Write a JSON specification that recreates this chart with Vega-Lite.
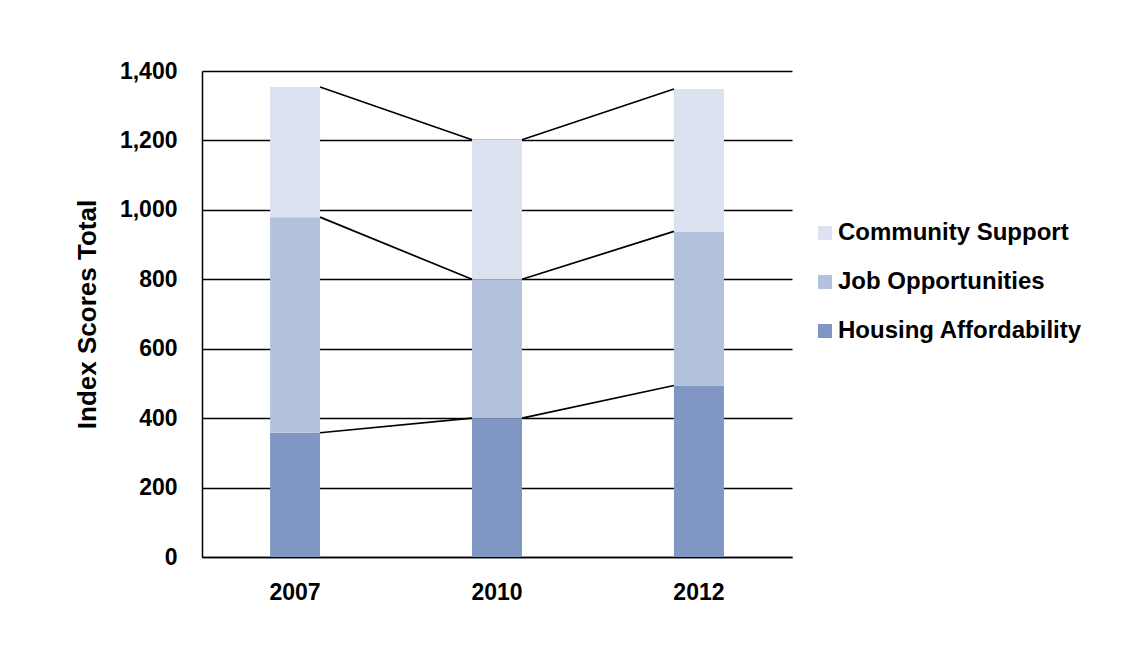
{
  "$schema": "https://vega.github.io/schema/vega-lite/v6.json",
  "width": 590,
  "height": 486,
  "autosize": {"type": "none"},
  "padding": {"left": 202, "top": 71, "right": 333, "bottom": 101},
  "background": "white",
  "config": {
    "font": "Liberation Sans",
    "view": {"stroke": null}
  },
  "data": {
    "values": [
      {"year": "2007", "series": "Housing Affordability", "value": 358},
      {"year": "2007", "series": "Job Opportunities", "value": 621},
      {"year": "2007", "series": "Community Support", "value": 375},
      {"year": "2010", "series": "Housing Affordability", "value": 400},
      {"year": "2010", "series": "Job Opportunities", "value": 400},
      {"year": "2010", "series": "Community Support", "value": 402},
      {"year": "2012", "series": "Housing Affordability", "value": 494},
      {"year": "2012", "series": "Job Opportunities", "value": 444},
      {"year": "2012", "series": "Community Support", "value": 410}
    ]
  },
  "transform": [
    {"calculate": "indexof(['Housing Affordability','Job Opportunities','Community Support'], datum.series)", "as": "rank"}
  ],
  "layer": [
    {
      "mark": {"type": "bar", "strokeWidth": 0},
      "encoding": {
        "x": {
          "field": "year",
          "type": "ordinal",
          "scale": {"paddingInner": 0.7525, "paddingOuter": 0.337},
          "axis": {
            "title": null,
            "labelAngle": 0,
            "labelFontSize": 23,
            "labelFontWeight": "bold",
            "labelColor": "black",
            "labelPadding": 24,
            "ticks": false,
            "domain": true,
            "domainColor": "black",
            "domainWidth": 1.5
          }
        },
        "y": {
          "field": "value",
          "type": "quantitative",
          "stack": "zero",
          "scale": {"domain": [0, 1400], "nice": false},
          "axis": {
            "title": "Index Scores Total",
            "titleFontSize": 26,
            "titleFontWeight": "bold",
            "titleColor": "black",
            "titlePadding": 19,
            "values": [0, 200, 400, 600, 800, 1000, 1200, 1400],
            "format": ",.0f",
            "labelFontSize": 23,
            "labelFontWeight": "bold",
            "labelColor": "black",
            "labelPadding": 25,
            "ticks": false,
            "domain": true,
            "domainColor": "black",
            "domainWidth": 1.5,
            "grid": true,
            "gridColor": "black",
            "gridWidth": 1.6,
            "gridOpacity": 1
          }
        },
        "color": {
          "field": "series",
          "type": "nominal",
          "sort": ["Community Support", "Job Opportunities", "Housing Affordability"],
          "scale": {
            "domain": ["Community Support", "Job Opportunities", "Housing Affordability"],
            "range": ["#dce2ef", "#b3c1dc", "#7f97c2"]
          },
          "legend": {
            "title": null,
            "orient": "none",
            "legendX": 611,
            "legendY": 150,
            "symbolType": "square",
            "symbolSize": 196,
            "symbolStrokeWidth": 0,
            "symbolOpacity": 1,
            "labelFontSize": 24,
            "labelFontWeight": "bold",
            "labelColor": "black",
            "labelOffset": 1,
            "rowPadding": 25,
            "labelLimit": 400
          }
        },
        "order": {"field": "rank", "type": "quantitative"}
      }
    },
    {
      "transform": [
        {
          "window": [{"op": "sum", "field": "value", "as": "cum"}],
          "groupby": ["year"],
          "sort": [{"field": "rank"}],
          "frame": [null, 0]
        },
        {
          "window": [
            {"op": "lead", "field": "cum", "as": "nextCum"},
            {"op": "lead", "field": "year", "as": "nextYear"}
          ],
          "groupby": ["series"],
          "sort": [{"field": "year"}]
        },
        {"filter": "datum.nextYear != null"}
      ],
      "mark": {"type": "rule", "color": "black", "strokeWidth": 1.7},
      "encoding": {
        "x": {"field": "year", "type": "ordinal", "bandPosition": 1},
        "x2": {"field": "nextYear", "bandPosition": 0},
        "y": {"field": "cum", "type": "quantitative"},
        "y2": {"field": "nextCum"}
      }
    }
  ]
}
